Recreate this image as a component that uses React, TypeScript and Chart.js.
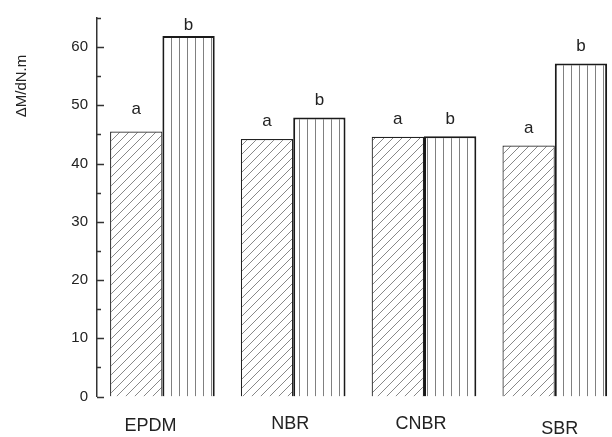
import React, { useEffect, useRef } from "react";
import { Chart, registerables } from "chart.js";

Chart.register(...registerables);

// Rubber grades and torque difference for the two conditions
const categories = ["EPDM", "NBR", "CNBR", "SBR"];
const seriesA = [45.5, 44.2, 44.6, 43.1];
const seriesB = [61.9, 47.9, 44.7, 57.2];
const seriesLetters = ["a", "b"];
const yTickValues = [0, 10, 20, 30, 40, 50, 60];
const yTitle = "ΔM/dN.m";

// Drawing tweaks (pixels)
const letterLift = [
  [17.5, 12.8, 12.5, 12.3],
  [5.8, 12.6, 12.5, 12.6],
];
const categoryNudgeX = [-12, -3, -3, 5];
const categoryY = [426.5, 424.5, 424.5, 429.5];

const FONT = "'Liberation Sans', Arial, Helvetica, sans-serif";

function makeDiagonalPattern(): CanvasPattern | string {
  const s = 9;
  const c = document.createElement("canvas");
  c.width = s;
  c.height = s;
  const g = c.getContext("2d");
  if (!g) return "#fff";
  g.fillStyle = "#ffffff";
  g.fillRect(0, 0, s, s);
  g.strokeStyle = "#6a6a6a";
  g.lineWidth = 0.8;
  g.beginPath();
  g.moveTo(-1, s + 1);
  g.lineTo(s + 1, -1);
  g.moveTo(-1, 1);
  g.lineTo(1, -1);
  g.moveTo(s - 1, s + 1);
  g.lineTo(s + 1, s - 1);
  g.stroke();
  const p = g.createPattern(c, "repeat");
  return p || "#fff";
}

function makeVerticalPattern(): CanvasPattern | string {
  const s = 8;
  const c = document.createElement("canvas");
  c.width = s;
  c.height = s;
  const g = c.getContext("2d");
  if (!g) return "#fff";
  g.fillStyle = "#ffffff";
  g.fillRect(0, 0, s, s);
  g.fillStyle = "#808080";
  g.fillRect(3, 0, 1, s);
  const p = g.createPattern(c, "repeat");
  return p || "#fff";
}

const decorations = {
  id: "decorations",
  afterDatasetsDraw(chart: any) {
    const ctx: CanvasRenderingContext2D = chart.ctx;
    const y = chart.scales.y;
    const x = chart.scales.x;
    const left = chart.chartArea.left;

    ctx.save();
    // inward ticks on the value axis
    ctx.strokeStyle = "#333";
    ctx.lineWidth = 1.5;
    for (let v = 0; v <= 65; v += 5) {
      const py = Math.round(y.getPixelForValue(v)) + 0.5;
      const len = v % 10 === 0 ? 7 : 4;
      ctx.beginPath();
      ctx.moveTo(left, py);
      ctx.lineTo(left + len, py);
      ctx.stroke();
    }

    // significance letters above the bars
    ctx.fillStyle = "#222";
    ctx.font = `17px ${FONT}`;
    ctx.textAlign = "center";
    ctx.textBaseline = "alphabetic";
    for (let d = 0; d < 2; d++) {
      const meta = chart.getDatasetMeta(d);
      meta.data.forEach((bar: any, i: number) => {
        ctx.fillText(seriesLetters[d], bar.x, bar.y - letterLift[d][i]);
      });
    }

    // category labels
    ctx.font = `18px ${FONT}`;
    ctx.textBaseline = "middle";
    categories.forEach((name, i) => {
      ctx.fillText(name, x.getPixelForValue(i) + categoryNudgeX[i], categoryY[i]);
    });

    // value axis title
    ctx.font = `15px ${FONT}`;
    ctx.translate(22, 86);
    ctx.rotate(-Math.PI / 2);
    ctx.fillText(yTitle, 0, 0);
    ctx.restore();
  },
};

export default function App() {
  const ref = useRef<HTMLCanvasElement>(null);

  useEffect(() => {
    const canvas = ref.current;
    if (!canvas) return;
    const chart = new Chart(canvas, {
      type: "bar",
      data: {
        labels: categories,
        datasets: [
          {
            data: seriesA,
            backgroundColor: makeDiagonalPattern() as any,
            borderColor: "#222",
            borderWidth: 1.2,
            borderSkipped: "bottom",
          },
          {
            data: seriesB,
            backgroundColor: makeVerticalPattern() as any,
            borderColor: "#1a1a1a",
            borderWidth: 2,
            borderSkipped: "bottom",
          },
        ],
      },
      options: {
        responsive: false,
        animation: false,
        devicePixelRatio: 1,
        layout: { padding: { top: 13.5, bottom: 40.5, right: 19.8, left: 0 } },
        plugins: {
          legend: { display: false },
          tooltip: { enabled: false },
        },
        datasets: {
          bar: { categoryPercentage: 0.8, barPercentage: 1.0 },
        },
        scales: {
          x: {
            type: "category",
            display: false,
            offset: true,
          },
          y: {
            min: 0,
            max: 65,
            afterFit: (scale: any) => {
              scale.width = 97;
            },
            ticks: {
              stepSize: 5,
              padding: 9,
              color: "#222",
              font: { family: FONT, size: 15 },
              callback: (v: any) => (yTickValues.includes(Number(v)) ? String(v) : ""),
            },
            grid: { display: false, drawTicks: false },
            border: { display: true, color: "#333", width: 1.5 },
          },
        },
      },
      plugins: [decorations],
    });
    return () => chart.destroy();
  }, []);

  return (
    <div
      style={{
        position: "fixed",
        left: 0,
        top: 0,
        width: 612,
        height: 437,
        overflow: "hidden",
        background: "#fff",
      }}
    >
      <canvas ref={ref} width={640} height={437} style={{ display: "block" }} />
    </div>
  );
}
